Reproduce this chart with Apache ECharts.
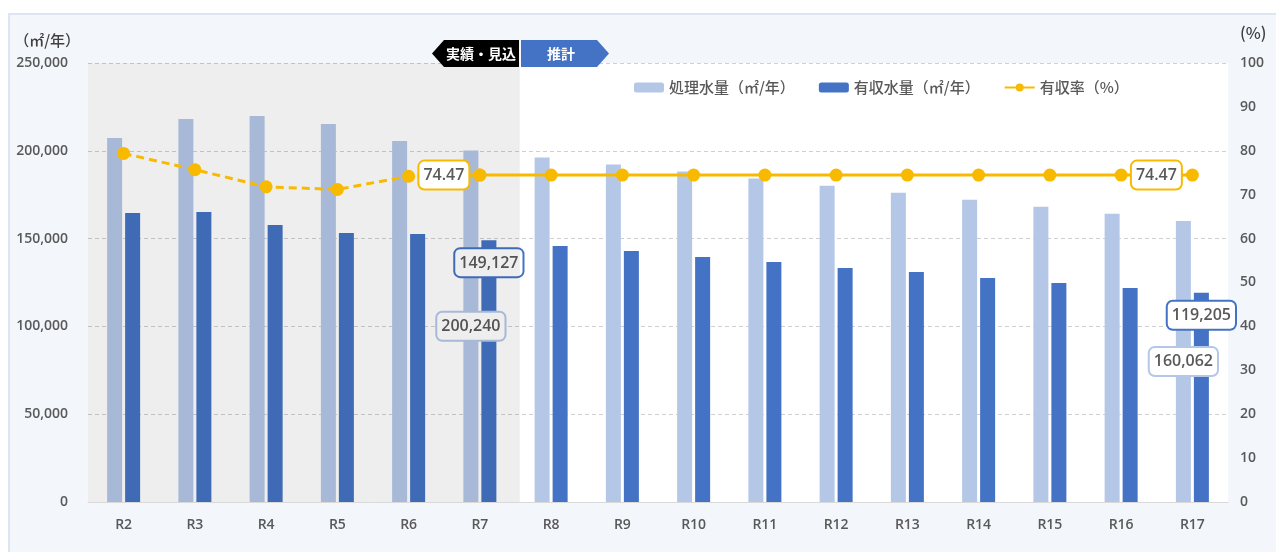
<!DOCTYPE html>
<html>
<head>
<meta charset="utf-8">
<script src="https://cdn.jsdelivr.net/npm/echarts@6/dist/echarts.min.js"></script>
<style>
  html, body { margin: 0; padding: 0; background: #fff; }
  #panel {
    position: absolute; left: 8px; top: 13px; width: 1266px; height: 537px;
    border: 2px solid #dde5f3; background: #f3f6fb;
  }
  #chart { position: absolute; left: 0; top: 0; width: 1276px; height: 552px; }
</style>
</head>
<body>
<div id="panel"></div>
<div id="chart"></div>
<script>
const categories = ['R2', 'R3', 'R4', 'R5', 'R6', 'R7', 'R8', 'R9', 'R10', 'R11', 'R12', 'R13', 'R14', 'R15', 'R16', 'R17']
// 処理水量（㎡/年）
const treated = [207300, 218100, 219800, 215300, 205600, 200240, 196200, 192200, 188200, 184200, 180100, 176100, 172100, 168100, 164100, 160062]
// 有収水量（㎡/年）
const billed = [164600, 165100, 157700, 153200, 152600, 149127, 145800, 142900, 139500, 136700, 133300, 131000, 127600, 124700, 121900, 119205]
// 有収率（%）
const rate = [79.4, 75.7, 71.8, 71.2, 74.2, 74.47, 74.47, 74.47, 74.47, 74.47, 74.47, 74.47, 74.47, 74.47, 74.47, 74.47]
const lastActual = 5 // R7 = last 実績・見込 year
const labelled = [5, 15]

const font = '"Open Sans", "Noto Sans CJK JP", sans-serif'
const cjk = '"Noto Sans CJK JP", sans-serif'
const text = '#595959'
const yellow = '#F8BA00'

function boxLabel(border, position, distance) {
  return {
    show: true, position, distance,
    color: text, fontSize: 16, fontWeight: 600, fontFamily: font,
    backgroundColor: '#fff', borderColor: border, borderWidth: 2, borderRadius: 5,
    padding: [6, 4, 5, 4],
    formatter: p => Number(p.value).toLocaleString('en-US'),
  }
}

function barData(values, label) {
  return values.map((v, i) => labelled.includes(i) ? { value: v, label } : v)
}

const actualRate = rate.map((v, i) => (i <= lastActual ? v : null))
const projRate = rate.map((v, i) => (i >= lastActual ? v : null))
const rateLabel = boxLabel(yellow, 'left', 5)
rateLabel.formatter = p => p.value.toFixed(2)
const projData = projRate.map((v, i) => labelled.includes(i) && i !== lastActual ? { value: v, label: rateLabel } : v)
const actualData = actualRate.map((v, i) => i === lastActual ? { value: v, label: rateLabel } : v)

const tick = { color: text, fontSize: 14, fontWeight: 600, fontFamily: font }

const chart = echarts.init(document.getElementById('chart'))
chart.setOption({
  animation: false,
  textStyle: { fontFamily: font },
  grid: { left: 88, right: 48, top: 63, bottom: 50, show: true, backgroundColor: '#fff', borderWidth: 0 },
  legend: {
    left: 629, top: 75, itemGap: 24, itemWidth: 30, itemHeight: 10,
    textStyle: { color: text, fontSize: 15, fontWeight: 500, fontFamily: cjk },
    data: ['処理水量（㎡/年）', '有収水量（㎡/年）', '有収率（%）'],
  },
  xAxis: [
    {
      type: 'category', data: categories,
      axisLine: { lineStyle: { color: '#d9d9d9', width: 1 } },
      axisTick: { show: false },
      axisLabel: Object.assign({ margin: 16 }, tick),
    },
    { type: 'value', min: 0, max: 16, show: false },
  ],
  yAxis: [
    {
      type: 'value', min: 0, max: 250000, interval: 50000,
      name: '（㎡/年）', nameGap: 15,
      nameTextStyle: { color: '#404040', fontSize: 15, fontWeight: 500, fontFamily: cjk, align: 'right', padding: [0, 8, 0, 0] },
      axisLine: { show: false }, axisTick: { show: false },
      axisLabel: Object.assign({ margin: 20, formatter: v => v.toLocaleString('en-US') }, tick),
      splitLine: { lineStyle: { color: '#d0d0d0', type: [4, 3] } },
    },
    {
      type: 'value', min: 0, max: 100, interval: 10,
      name: '(%)', nameGap: 22,
      nameTextStyle: { color: '#404040', fontSize: 16, fontWeight: 500, fontFamily: cjk, align: 'left', padding: [0, 0, 0, 12] },
      axisLine: { show: false }, axisTick: { show: false },
      axisLabel: Object.assign({ margin: 12 }, tick),
      splitLine: { show: false },
    },
  ],
  series: [
    {
      name: '処理水量（㎡/年）', type: 'bar', z: 1, barWidth: 15, barGap: '20%',
      itemStyle: { color: '#b4c7e7' },
      data: barData(treated, boxLabel('#b4c7e7', 'inside', 0)),
    },
    {
      name: '有収水量（㎡/年）', type: 'bar', z: 1, barWidth: 15,
      itemStyle: { color: '#4472c4' },
      data: barData(billed, boxLabel('#4472c4', 'insideTop', 9)),
    },
    {
      // shading over the 実績・見込 years, drawn above the bars
      type: 'line', xAxisIndex: 1, yAxisIndex: 0, z: 2, silent: true, data: [],
      markArea: {
        silent: true, z: 2,
        itemStyle: { color: 'rgba(0,0,0,0.066)' },
        data: [[{ xAxis: 0 }, { xAxis: lastActual + 1.06 }]],
      },
    },
    {
      name: '有収率（%）', type: 'line', yAxisIndex: 1, z: 3,
      symbol: 'circle', symbolSize: 13, color: yellow,
      lineStyle: { color: yellow, width: 3 },
      data: projData,
    },
    {
      name: '有収率（%）', type: 'line', yAxisIndex: 1, z: 3,
      symbol: 'circle', symbolSize: 13, color: yellow,
      lineStyle: { color: yellow, width: 3, type: [8, 5] },
      data: actualData,
    },
  ],
  graphic: [
    {
      type: 'polygon', z: 10,
      shape: { points: [[432, 53.5], [444, 40], [519, 40], [519, 67], [444, 67]] },
      style: { fill: '#000' },
    },
    {
      type: 'text', z: 11, x: 481, y: 53.5,
      style: { text: '実績・見込', fill: '#fff', font: 'bold 14px ' + cjk, align: 'center', verticalAlign: 'middle' },
    },
    {
      type: 'polygon', z: 10,
      shape: { points: [[521, 40], [597, 40], [609, 53.5], [597, 67], [521, 67]] },
      style: { fill: '#4472c4' },
    },
    {
      type: 'text', z: 11, x: 561, y: 53.5,
      style: { text: '推計', fill: '#fff', font: 'bold 14px ' + cjk, align: 'center', verticalAlign: 'middle' },
    },
  ],
})
</script>
</body>
</html>
